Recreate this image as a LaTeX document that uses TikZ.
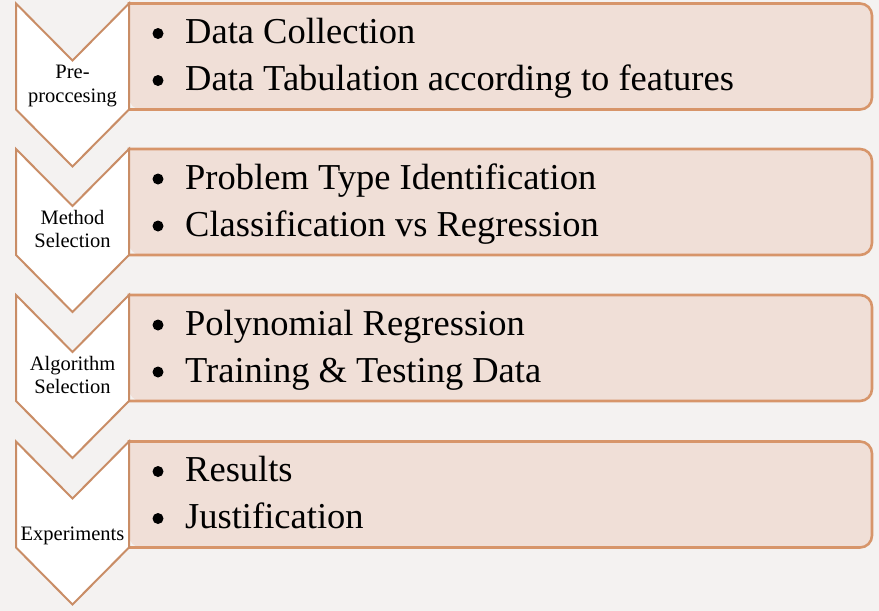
\documentclass[tikz,border=0pt]{standalone}
\usepackage{fontspec}
\setmainfont{Liberation Serif}
\definecolor{pagebg}{HTML}{F4F2F1}
\definecolor{boxfill}{HTML}{F0DFD7}
\definecolor{boxline}{HTML}{D7956A}
\definecolor{chevline}{HTML}{C98D66}

% One stage: #1 name, #2 top edge, #3/#4 bullet items, #5/#6 chevron label lines
\newcommand{\stagerow}[6]{%
  % right-rounded box (left edge shared with the chevron)
  \path[stagebox, fill=boxfill, draw=none, rounded corners=12pt]
    (129,#2) -- (872,#2) -- (872,{#2+106}) -- (129,{#2+106}) -- (129,#2);
  \draw[stagebox, rounded corners=12pt, line cap=rect]
    (129,#2) -- (872,#2) -- (872,{#2+106}) -- (129,{#2+106});
  \draw[stagebox] (129,#2) -- (129,{#2+106});
  % chevron pointing down
  \draw[chev] (16,#2) -- (72.5,{#2+57}) -- (129,#2) -- (129,{#2+106})
    -- (72.5,{#2+163}) -- (16,{#2+106}) -- cycle;
  % label inside the chevron
  \node[lab] (#1la) at (72.5,{#2+75}) {#5};
  \node[lab] (#1lb) at (72.5,{#2+98.5}) {#6};
  % bullet items
  \node[dot] (#1da) at (158,{#2+30}) {};
  \node[item] (#1ia) at (185,{#2+40}) {#3};
  \node[dot] (#1db) at (158,{#2+77}) {};
  \node[item] (#1ib) at (185,{#2+87}) {#4};
}

\begin{document}
\begin{tikzpicture}[x=1pt,y=-1pt,
  chev/.style={draw=chevline, line width=2pt, fill=white, line join=miter},
  stagebox/.style={draw=boxline, line width=2.6pt},
  item/.style={anchor=base west, inner sep=0pt, font=\fontsize{36.5}{44}\selectfont},
  dot/.style={circle, fill=black, inner sep=0pt, minimum size=11pt},
  lab/.style={anchor=base, inner sep=0pt, font=\fontsize{20.5}{24}\selectfont}]
\fill[pagebg] (0,0) rectangle (879,611);
\useasboundingbox (0,0) rectangle (879,611);

\stagerow{pre}{3.5}{Data Collection}{Data Tabulation according to features}{Pre-}{proccesing}
\stagerow{met}{149}{Problem Type Identification}{Classification vs Regression}{Method}{Selection}
\stagerow{alg}{295}{Polynomial Regression}{Training \& Testing Data}{Algorithm}{Selection}
\stagerow{exp}{441.5}{Results}{Justification}{}{Experiments}
\end{tikzpicture}
\end{document}
